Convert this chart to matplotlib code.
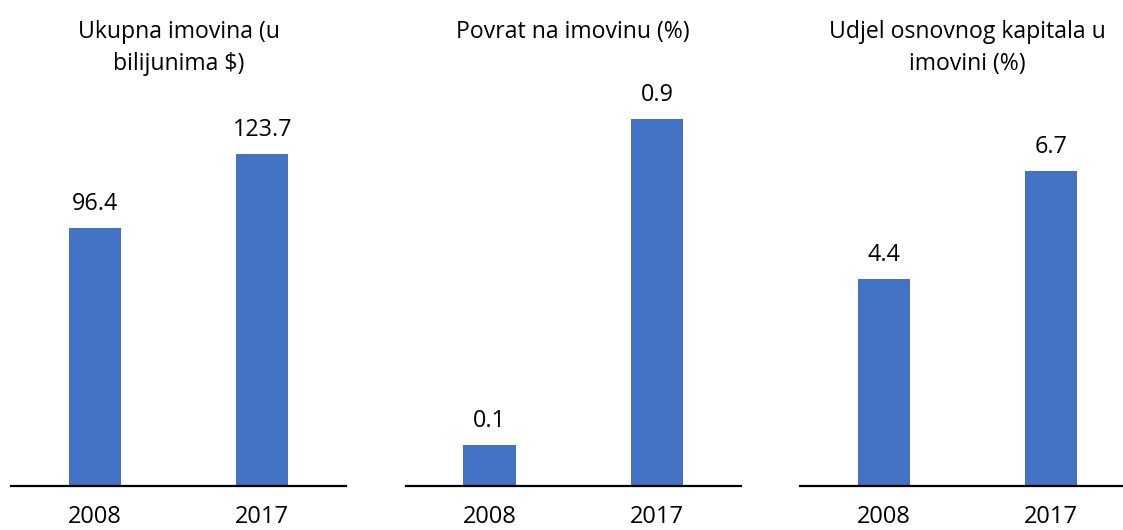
import matplotlib
matplotlib.use("Agg")
import matplotlib.pyplot as plt
import matplotlib.transforms as mtransforms

plt.rcParams['font.family'] = ['Open Sans', 'DejaVu Sans']

years = ["2008", "2017"]
titles = [["Ukupna imovina (u", "bilijunima \\$)"],
          ["Povrat na imovinu (%)"],
          ["Udjel osnovnog kapitala u", "imovini (%)"]]
total_assets = [96.4, 123.7]
roa = [0.1, 0.9]
equity_share = [4.4, 6.7]
series = [total_assets, roa, equity_share]
ymax = [140.3, 0.922, 8.0]

W, H = 1123, 530
fig = plt.figure(figsize=(W / 100, H / 100), dpi=100)
bar_color = "#4472C4"

lefts = [11, 405.7, 800]
ax_w = 335
ax_bottom = 530 - 486
ax_top = 530 - 110

for i in range(3):
    ax = fig.add_axes([lefts[i] / W, ax_bottom / H, ax_w / W, (ax_top - ax_bottom) / H])
    xs = list(range(len(years)))
    ax.bar(xs, series[i], width=0.313, color=bar_color, zorder=2)
    ax.set_xlim(-0.5, 1.5)
    ax.set_ylim(0, ymax[i])
    for s in ["top", "right", "left"]:
        ax.spines[s].set_visible(False)
    ax.spines["bottom"].set_linewidth(1.6)
    ax.spines["bottom"].set_color("black")
    ax.set_yticks([])
    ax.set_xticks(xs)
    ax.set_xticklabels(years, fontsize=17)
    ax.tick_params(axis="x", length=0, pad=14)
    for x, v in zip(xs, series[i]):
        ax.annotate("{:.1f}".format(v), (x, v), xytext=(0, 13),
                    textcoords="offset points", ha="center", va="baseline",
                    fontsize=16.8, color="black")
    trans = mtransforms.blended_transform_factory(ax.transAxes, fig.transFigure)
    for k, line in enumerate(titles[i]):
        ax.text(0.5, 1 - (38 + 32 * k) / H, line, transform=trans, ha="center",
                va="baseline", fontsize=16.6)

fig.savefig("out.png", dpi=100)
